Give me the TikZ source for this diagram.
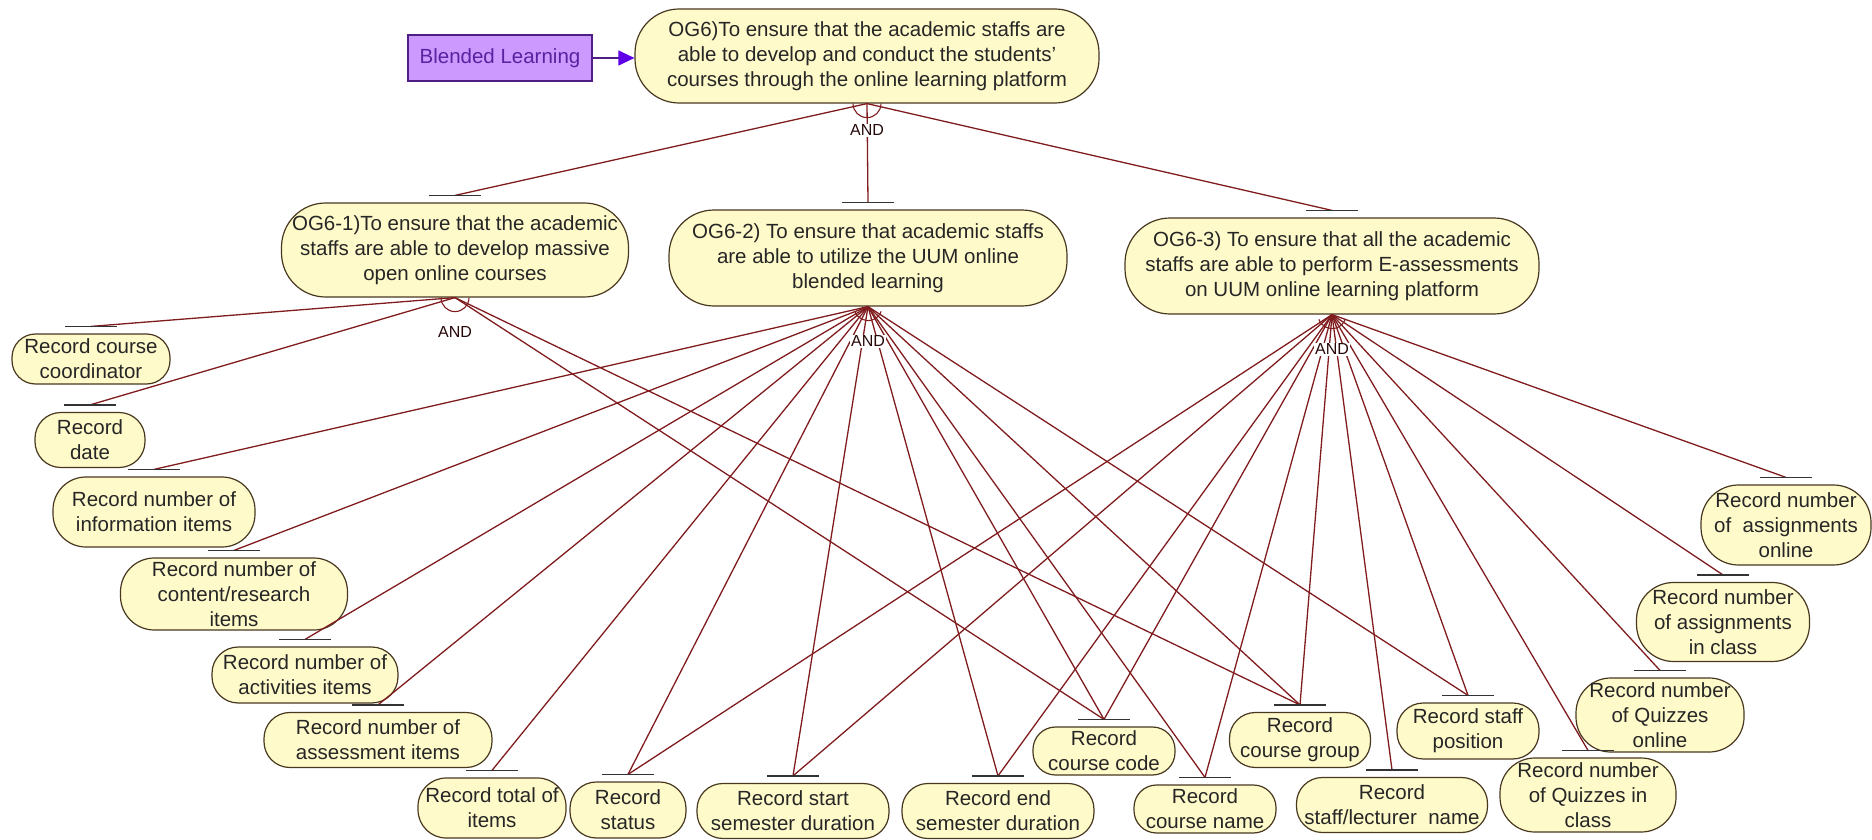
\documentclass[tikz,border=0pt]{standalone}
\usepackage{fontspec}
\setmainfont{Liberation Sans}
\usepackage{xcolor}
\usepackage{tikz}
\usetikzlibrary{arrows.meta,positioning}
\definecolor{goalfill}{RGB}{255,250,202}
\definecolor{goalline}{RGB}{72,56,32}
\definecolor{linkred}{RGB}{128,28,30}
\definecolor{agentfill}{RGB}{204,153,255}
\definecolor{agentline}{RGB}{78,30,130}
\definecolor{agenttext}{RGB}{88,34,160}
\definecolor{arrowblue}{RGB}{96,0,230}
\newcommand{\goalfont}{\fontsize{20.5}{25}\selectfont}

\begin{document}
\begin{tikzpicture}[
  x=1pt, y=-1pt,
  goal/.style 2 args={rectangle, draw=goalline, fill=goalfill, line width=1.2pt,
              align=center, inner sep=1pt, font=\goalfont, text=black!85,
              minimum width=#1pt, minimum height=#2pt, rounded corners=0.47*#2pt},
  agent/.style={rectangle, draw=agentline, fill=agentfill, line width=1.2pt,
              font=\goalfont, text=agenttext, minimum width=184pt, minimum height=46pt},
  andlink/.style={draw=linkred, line width=1.3pt},
  andarc/.style={draw=linkred, line width=1.1pt},
  bar/.style={draw=black!80, line width=1.6pt},
  andlabel/.style={font=\fontsize{16}{18}\selectfont, text=black!70!linkred,
              fill=white, inner sep=1pt},
  arr/.style={-{Triangle[length=16pt,width=15pt,color=arrowblue]}, draw=agentline, line width=1.2pt}
]
  \useasboundingbox (0,0) rectangle (1872,840);

  % top goal and agent
  \node[agent] (blend) at (500,58) {Blended Learning};
  \node[goal={464}{94}] (og6) at (867,56) {OG6)To ensure that the academic staffs are\\ able to develop and conduct the students'\\ courses through the online learning platform};

  % sub goals
  \node[goal={347}{94}] (og61) at (455,250) {OG6-1)To ensure that the academic\\ staffs are able to develop massive\\ open online courses};
  \node[goal={398}{96}] (og62) at (868,258) {OG6-2) To ensure that academic staffs\\ are able to utilize the UUM online\\ blended learning};
  \node[goal={414}{96}] (og63) at (1332,266) {OG6-3) To ensure that all the academic\\ staffs are able to perform E-assessments\\ on UUM online learning platform};

  % records
  \node[goal={158}{50}] (coord) at (91,359) {Record course\\ coordinator};
  \node[goal={110}{55}] (date) at (90,440) {Record\\ date};
  \node[goal={202}{70}] (info) at (154,512) {Record number of\\ information items};
  \node[goal={227}{72}] (content) at (234,594) {Record number of\\ content/research\\ items};
  \node[goal={186}{56}] (activ) at (305,675) {Record number of\\ activities items};
  \node[goal={228}{55}] (assess) at (378,740) {Record number of\\ assessment items};
  \node[goal={148}{60}] (total) at (492,808) {Record total of\\ items};
  \node[goal={116}{56}] (status) at (628,810) {Record\\ status};
  \node[goal={192}{55}] (start) at (793,811) {Record start\\ semester duration};
  \node[goal={192}{55}] (endsem) at (998,811) {Record end\\ semester duration};
  \node[goal={142}{48}] (code) at (1104,751) {Record\\ course code};
  \node[goal={142}{48}] (cname) at (1205,809) {Record\\ course name};
  \node[goal={141}{55}] (group) at (1300,740) {Record\\ course group};
  \node[goal={191}{55}] (lecturer) at (1392,805) {Record\\ staff/lecturer\ \ name};
  \node[goal={142}{56}] (position) at (1468,731) {Record staff\\ position};
  \node[goal={176}{74}] (qclass) at (1588,795) {Record number\\ of Quizzes in\\ class};
  \node[goal={168}{74}] (qonline) at (1660,715) {Record number\\ of Quizzes\\ online};
  \node[goal={173}{79}] (aclass) at (1723,622) {Record number\\ of assignments\\ in class};
  \node[goal={170}{80}] (aonline) at (1786,525) {Record number\\ of\ \ assignments\\ online};

  \draw[arr] (blend.east) -- (blend.east -| og6.west);

  % and-refinement links
  \foreach \n in {og61,og62,og63}
    \draw[andlink] (og6.south) -- ([yshift=7pt]\n.north);
  \foreach \n in {coord,date,code,group}
    \draw[andlink] (og61.south) -- ([yshift=7pt]\n.north);
  \foreach \n in {info,content,activ,assess,total,status,start,endsem,code,cname,group,position}
    \draw[andlink] (og62.south) -- ([yshift=7pt]\n.north);
  \foreach \n in {status,start,endsem,code,cname,group,position,lecturer,qclass,qonline,aclass,aonline}
    \draw[andlink] (og63.south) -- ([yshift=7pt]\n.north);

  % bars on top of refined goals
  \foreach \n in {og61,og62,og63,coord,date,info,content,activ,assess,total,status,start,endsem,
                  code,cname,group,lecturer,position,qclass,qonline,aclass,aonline}
    \draw[bar] ([xshift=-26pt,yshift=7pt]\n.north) -- ([xshift=26pt,yshift=7pt]\n.north);

  % and arcs
  \draw[andarc] ([shift={(180:14pt)}]og6.south) arc[start angle=180,end angle=360,radius=14pt];
  \draw[andarc] ([shift={(180:14pt)}]og61.south) arc[start angle=180,end angle=360,radius=14pt];
  \draw[andarc] ([shift={(200:14pt)}]og62.south) arc[start angle=200,end angle=340,radius=14pt];
  \draw[andarc] ([shift={(200:14pt)}]og63.south) arc[start angle=200,end angle=340,radius=14pt];

  \node[andlabel, below=20pt of og6.south] (and6) {AND};
  \node[andlabel, below=28pt of og61.south] (and61) {AND};
  \node[andlabel, below=28pt of og62.south] (and62) {AND};
  \node[andlabel, below=28pt of og63.south] (and63) {AND};
\end{tikzpicture}
\end{document}
